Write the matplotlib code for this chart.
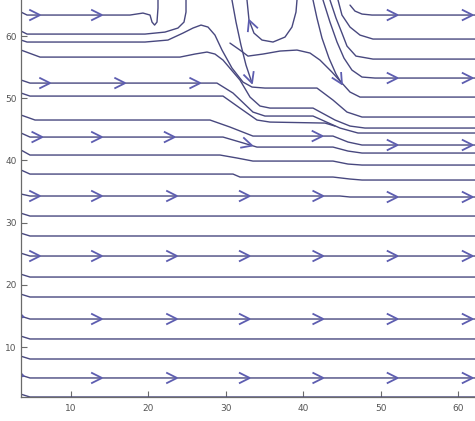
import matplotlib
matplotlib.use("Agg")
import matplotlib.pyplot as plt
import numpy as np

# ---------------- data (data units) ----------------
x_limits = (3.54, 62.2)
y_limits = (1.96, 65.8)
x_ticks = [10, 20, 30, 40, 50, 60]
y_ticks = [10, 20, 30, 40, 50, 60]

# streamlines starting at the left edge (upper, disturbed band)
l1_x = [3.54, 4.32, 17.62, 19.30, 20.21, 20.47, 20.80, 21.11, 21.24, 21.24]
l1_y = [63.86, 63.38, 63.38, 63.70, 63.38, 62.25, 61.77, 62.25, 64.5, 65.8]
l1_arrows = [6.0, 14.0]

l2_x = [3.54, 4.32, 19.56, 22.14, 23.82, 24.60, 24.86, 24.86]
l2_y = [60.80, 60.32, 60.32, 60.64, 61.29, 62.25, 63.86, 65.8]

l3_x = [3.54, 4.32, 19.56, 22.53, 24.47, 25.76, 26.80, 27.70, 28.60, 29.51, 30.80,
        32.22, 33.39, 35.06, 41.78, 43.85, 45.66, 47.60, 62.2]
l3_y = [59.36, 59.04, 59.04, 59.36, 60.48, 61.29, 61.77, 61.45, 60.16, 57.75, 54.86,
        52.60, 51.80, 51.64, 51.64, 49.71, 47.78, 46.98, 46.98]

l4_x = [3.54, 6.0, 24.08, 26.02, 27.57, 28.60, 29.64, 31.83, 33.13, 34.42, 35.71,
        41.27, 44.11, 46.05, 47.98, 62.2]
l4_y = [57.75, 56.62, 56.62, 57.11, 57.43, 57.11, 56.14, 52.93, 50.19, 48.75, 48.42,
        48.42, 46.50, 45.53, 45.21, 45.21]

d_x = [3.54, 4.70, 28.86, 30.93, 33.51, 35.06, 41.27, 44.75, 47.08, 62.2]
d_y = [52.93, 52.44, 52.44, 50.84, 47.78, 47.14, 47.14, 45.21, 44.41, 44.41]
d_arrows = [7.3, 17.0, 26.7]

e_x = [3.54, 4.70, 29.64, 31.83, 34.03, 35.71, 42.82, 44.11]
e_y = [50.84, 50.35, 50.35, 48.42, 46.50, 46.17, 46.01, 45.53]

f_x = [3.54, 5.35, 27.96, 30.54, 33.51, 43.85, 45.79, 47.60, 62.2]
f_y = [47.30, 46.50, 46.50, 45.37, 43.92, 43.92, 42.96, 42.48, 42.48]
f_arrows = [42.5, 52.2, 61.9]

g_x = [3.54, 4.70, 29.64, 31.83, 34.03, 43.85, 45.79, 47.60, 62.2]
g_y = [44.41, 43.76, 43.76, 42.96, 42.15, 42.15, 41.51, 41.19, 41.19]
g_arrows = [6.3, 14.0, 23.4, 33.4]

h_x = [3.54, 4.70, 29.25, 31.45, 33.51, 43.85, 45.79, 47.60, 62.2]
h_y = [41.67, 40.87, 40.87, 40.39, 39.90, 39.90, 39.42, 39.26, 39.26]

i_x = [3.54, 4.70, 30.93, 31.83, 43.85, 46.05, 47.60, 62.2]
i_y = [38.46, 37.81, 37.81, 37.33, 37.33, 37.01, 36.85, 36.85]

j_x = [3.54, 4.70, 44.75, 46.05, 62.2]
j_y = [34.60, 34.28, 34.28, 34.12, 34.12]
j_arrows = [6.0, 14.0, 23.7, 33.1, 42.6, 52.2, 61.9]

# streamlines entering from the top
a1_x = [30.80, 31.32, 31.96, 32.61, 33.39]
a1_y = [65.8, 62.25, 58.55, 55.34, 52.44]

u_x = [39.2, 39.07, 38.55, 37.65, 36.10, 34.68, 33.64, 33.0, 32.74]
u_y = [65.8, 63.86, 61.45, 59.84, 59.04, 59.36, 60.48, 62.57, 65.8]

a2_x = [41.27, 41.78, 42.43, 43.33, 44.24, 45.01]
a2_y = [65.8, 62.89, 59.68, 56.46, 53.89, 52.28]

r1_x = [46.05, 46.69, 47.60, 48.89, 62.2]
r1_y = [64.98, 64.02, 63.54, 63.38, 63.38]
r1_arrows = [52.2, 61.9]

r2_x = [44.50, 45.01, 46.05, 47.34, 49.02, 62.2]
r2_y = [65.8, 63.38, 61.45, 60.16, 59.52, 59.52]

r3_x = [43.46, 44.24, 45.01, 45.66, 46.82, 49.02, 62.2]
r3_y = [65.8, 62.89, 60.48, 58.39, 56.78, 56.30, 56.30]

r4_x = [42.56, 43.46, 44.37, 45.27, 46.30, 47.60, 49.28, 62.2]
r4_y = [65.8, 62.25, 59.04, 56.46, 54.53, 53.41, 53.25, 53.25]
r4_arrows = [52.2, 61.9]

r5_x = [30.54, 31.83, 32.87, 34.81, 37.0, 39.2, 40.88, 42.17, 43.72, 45.01, 46.05, 47.34, 62.2]
r5_y = [58.87, 57.75, 56.78, 57.11, 57.59, 57.75, 57.27, 56.14, 54.21, 52.44, 51.0, 50.19, 50.19]

# straight streamlines of the lower, undisturbed band
flat_levels = [31.06, 27.85, 24.63, 21.25, 18.04, 14.50, 11.29, 8.07, 5.02, 1.96]
flat_arrows = {
    24.63: [6.0, 14.0, 23.7, 33.1, 42.6, 52.2, 61.9],
    14.50: [3.9, 14.0, 23.7, 33.1, 42.6, 52.2, 61.9],
    5.02: [3.9, 14.0, 23.7, 33.1, 42.6, 52.2, 61.9],
}

# ---------------- drawing ----------------
LINE_C = "#48487f"
ARROW_C = "#5d5db0"

fig = plt.figure(figsize=(4.75, 4.21), dpi=100)
ax = fig.add_axes([21 / 475, 24 / 421, 454 / 475, 397 / 421])
ax.set_xlim(x_limits)
ax.set_ylim(y_limits)
ax.set_xticks(x_ticks)
ax.set_yticks(y_ticks)
for s in ("top", "right"):
    ax.spines[s].set_visible(False)
for s in ("left", "bottom"):
    ax.spines[s].set_color("#6a6a6a")
    ax.spines[s].set_linewidth(0.9)
ax.tick_params(direction="in", length=4, width=0.8, color="#6a6a6a",
               labelsize=6.5, labelcolor="#555555")
ax.tick_params(axis="y", pad=3)
ax.tick_params(axis="x", pad=5)

lines = [
    (l1_x, l1_y, l1_arrows), (l2_x, l2_y, []), (l3_x, l3_y, []), (l4_x, l4_y, []),
    (d_x, d_y, d_arrows), (e_x, e_y, []), (f_x, f_y, f_arrows), (g_x, g_y, g_arrows),
    (h_x, h_y, []), (i_x, i_y, []), (j_x, j_y, j_arrows),
    (r1_x, r1_y, r1_arrows), (r2_x, r2_y, []), (r3_x, r3_y, []),
    (r4_x, r4_y, r4_arrows), (r5_x, r5_y, []),
]
for lev in flat_levels:
    lines.append(([3.54, 4.70, 62.2], [lev + 0.45, lev, lev], flat_arrows.get(lev, [])))

for xs, ys, _ in lines:
    ax.plot(xs, ys, color=LINE_C, lw=1.0, solid_capstyle="round", solid_joinstyle="round")
for xs, ys in [(a1_x, a1_y), (u_x, u_y), (a2_x, a2_y)]:
    ax.plot(xs, ys, color=LINE_C, lw=1.0, solid_joinstyle="round")

L, W = 10.0, 5.0
inv = ax.transData.inverted()


def chevron(p1, p2, tip):
    T = ax.transData.transform
    d = T(p2) - T(p1)
    u = d / np.hypot(*d)
    n = np.array([-u[1], u[0]])
    td = T(tip)
    pts = inv.transform(np.array([td - L * u + W * n, td, td - L * u - W * n]))
    ax.plot(pts[:, 0], pts[:, 1], color=ARROW_C, lw=1.3, solid_joinstyle="miter")


def arrows_on(xs, ys, tips):
    for xt in tips:
        for k in range(len(xs) - 1):
            if xs[k] <= xt <= xs[k + 1]:
                t = (xt - xs[k]) / (xs[k + 1] - xs[k])
                yt = ys[k] + t * (ys[k + 1] - ys[k])
                chevron((xs[k], ys[k]), (xs[k + 1], ys[k + 1]), (xt, yt))
                break


for xs, ys, tips in lines:
    arrows_on(xs, ys, tips)

# arrows at the ends of the lines coming down from the top
chevron((a1_x[-2], a1_y[-2]), (a1_x[-1], a1_y[-1]), (a1_x[-1], a1_y[-1]))
chevron((a2_x[-2], a2_y[-2]), (a2_x[-1], a2_y[-1]), (a2_x[-1], a2_y[-1]))
chevron((u_x[6], u_y[6]), (u_x[7], u_y[7]), (u_x[7], u_y[7]))

fig.savefig("out.png", dpi=100, facecolor="white")
